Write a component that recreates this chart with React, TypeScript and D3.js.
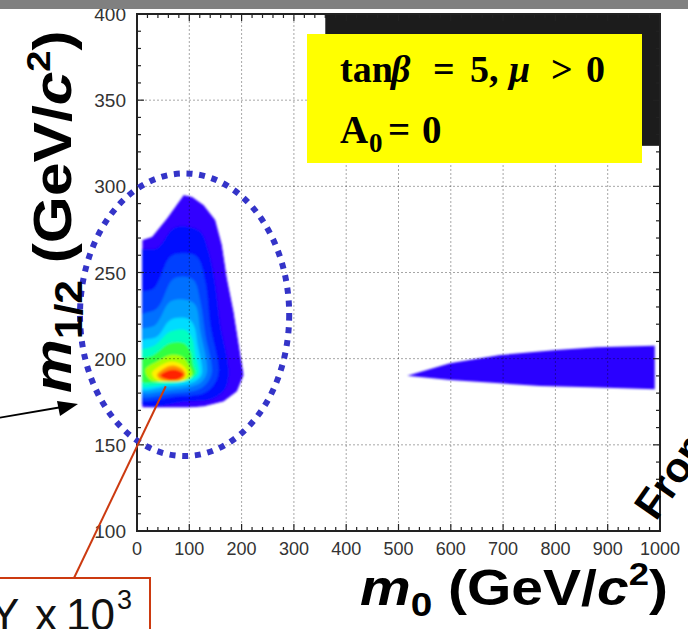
import React, { useEffect, useRef } from "react";
import * as d3 from "d3";

type Pt = [number, number];

// axis ticks
const xTicks = [0, 100, 200, 300, 400, 500, 600, 700, 800, 900, 1000];
const yTicks = [100, 150, 200, 250, 300, 350, 400];

// contour bands of the efficiency map, [m0, m1/2], outer -> inner
const band1: Pt[] = [[10, 268.9], [28.7, 270.8], [57.4, 281.5], [89.2, 295], [105.2, 294], [127.5, 289.2], [149.8, 280.5], [162.5, 266], [172.1, 246.6], [184.8, 227.3], [204, 190.5], [191.2, 180.9], [165.7, 175.1], [127.5, 172.2], [98.8, 171.6], [10, 171.6]];
const band2: Pt[] = [[0, 262.1], [38.2, 264], [70.1, 275.7], [95.6, 276.6], [121.1, 273.7], [137, 262.1], [149.8, 242.8], [159.3, 219.6], [175.3, 192.5], [168.9, 182.8], [146.6, 177], [95.6, 175.1], [0, 175.1]];
const band3: Pt[] = [[0, 237], [31.9, 240.8], [63.7, 259.2], [89.2, 261.1], [114.7, 259.2], [130.7, 244.7], [140.2, 219.6], [156.1, 192.5], [146.6, 184.7], [127.5, 179.9], [76.5, 178], [0, 177.4]];
const band4: Pt[] = [[0, 223.4], [38.2, 229.2], [66.9, 245.7], [82.9, 247.6], [108.3, 245.7], [121.1, 233.1], [130.7, 213.8], [143.4, 192.5], [133.8, 185.7], [114.7, 181.8], [70.1, 179.9], [0, 179.3]];
const band5: Pt[] = [[0, 215.7], [35.1, 219.6], [63.7, 233.1], [95.6, 234.1], [111.5, 231.2], [121.1, 215.7], [133.8, 192.5], [124.3, 186.7], [105.2, 183.8], [63.7, 181.8], [0, 181.3]];
const band6: Pt[] = [[0, 208.9], [38.2, 212.8], [63.7, 222.5], [95.6, 223.4], [108.3, 219.6], [116, 208], [124.3, 191.5], [114.7, 187.6], [95.6, 185.1], [57.4, 183.8], [0, 182.8]];
const band7: Pt[] = [[0, 203.1], [35.1, 208], [63.7, 215.7], [92.4, 216.7], [105.2, 211.8], [111.5, 202.2], [117.9, 191.5], [108.3, 188.6], [89.2, 186.7], [57.4, 185.1], [0, 184.7]];
const band8: Pt[] = [[0, 198.3], [31.9, 202.2], [63.7, 208.9], [89.2, 208.9], [102, 204.1], [107.1, 196.4], [111.5, 191.5], [102, 189], [82.9, 187.6], [54.2, 186.7], [3, 187.1]];
const band9: Pt[] = [[15.9, 193.5], [38.2, 198.3], [63.7, 202.2], [86, 201.2], [98.8, 196.4], [105.2, 190.5], [95.6, 187.6], [63.7, 186.7], [25.5, 187.6]];
const band10: Pt[] = [[28.7, 191.5], [47.8, 196.4], [66.9, 198.3], [86, 196.4], [96.9, 191.5], [89.2, 187.6], [63.7, 186.7], [38.2, 187.6]];
const band11: Pt[] = [[38.2, 190.5], [54.2, 194.8], [70.1, 196], [88, 193.5], [92.4, 190.2], [82.9, 187.6], [60.5, 187.1], [44.6, 188]];
const band12: Pt[] = [[44.6, 190.2], [57.4, 192.9], [73.3, 193.5], [89.2, 190.9], [79.7, 188.2], [60.5, 187.8]];
const bands = [band1, band2, band3, band4, band5, band6, band7, band8, band9, band10, band11, band12];
const bandColors = ["#3300ff", "#0010ff", "#0040ff", "#0070ff", "#00a0ff", "#00dcff", "#00ffc0", "#30ff40", "#a8ff00", "#fff000", "#ff9000", "#ff2000"];

// second allowed region at high m0
const rightBand: Pt[] = [[516.8, 190.1], [598.5, 197.3], [694, 202.1], [802.5, 205], [879, 206.6], [990, 207.5], [990, 182.2], [866, 183.4], [770.6, 184.1], [694, 185.7], [598.5, 187.6]];

// highlighted area and pointer target
const ellipseCenter: Pt = [91, 225.5];
const ellipseRadius: Pt = [200, 82];
const peakPoint: Pt = [55, 184];

export default function App() {
  const ref = useRef<SVGSVGElement>(null);

  useEffect(() => {
    const svg = d3.select(ref.current);
    svg.selectAll("*").remove();

    const width = 688,
      height = 629,
      margin = { top: 14, right: 28, bottom: 98, left: 137 };
    const font = "'Liberation Sans', Arial, sans-serif";
    const serif = "'Liberation Serif', 'Times New Roman', serif";

    const x = d3.scaleLinear().domain([0, 1000]).range([margin.left, width - margin.right]);
    const y = d3.scaleLinear().domain([100, 400]).range([height - margin.bottom, margin.top]);

    svg.append("rect").attr("width", width).attr("height", height).attr("fill", "#fff");

    const defs = svg.append("defs");
    const outerLine = d3.line<Pt>().x((d) => x(d[0])).y((d) => y(d[1])).curve(d3.curveLinearClosed);
    const smoothLine = d3.line<Pt>().x((d) => x(d[0])).y((d) => y(d[1])).curve(d3.curveCatmullRomClosed.alpha(0.5));
    defs.append("clipPath").attr("id", "blobClip").append("path").attr("d", outerLine(band1));
    defs.append("filter").attr("id", "soft").attr("x", "-10%").attr("y", "-10%").attr("width", "120%").attr("height", "120%")
      .append("feGaussianBlur").attr("stdDeviation", 0.9);

    // contour map
    const blob = svg.append("g").attr("filter", "url(#soft)").append("g").attr("clip-path", "url(#blobClip)");
    bands.forEach((b, i) => {
      blob.append("path")
        .attr("d", i === 0 ? outerLine(b) : smoothLine(b))
        .attr("fill", bandColors[i]);
    });

    svg.append("g").attr("filter", "url(#soft)").append("path")
      .attr("d", outerLine(rightBand))
      .attr("fill", "#2a00ff");

    // dotted grid
    const grid = svg.append("g").attr("stroke", "#000").attr("stroke-opacity", 0.35).attr("stroke-dasharray", "2,2");
    xTicks.slice(1, -1).forEach((t) => {
      grid.append("line").attr("x1", x(t)).attr("x2", x(t)).attr("y1", y(100)).attr("y2", y(400));
    });
    yTicks.slice(1, -1).forEach((t) => {
      grid.append("line").attr("x1", x(0)).attr("x2", x(1000)).attr("y1", y(t)).attr("y2", y(t));
    });

    // black patch behind the legend box
    svg.append("rect")
      .attr("x", x(360)).attr("y", y(400))
      .attr("width", x(1000) - x(360)).attr("height", y(323.5) - y(400))
      .attr("fill", "#1c1c1c");

    // ticks and frame
    const ticks = svg.append("g").attr("stroke", "#222").attr("stroke-width", 1.2);
    d3.range(100, 401, 10).forEach((t) => {
      const len = t % 50 === 0 ? 7 : 4;
      ticks.append("line").attr("x1", x(0)).attr("x2", x(0) + len).attr("y1", y(t)).attr("y2", y(t));
      ticks.append("line").attr("x1", x(1000)).attr("x2", x(1000) - len).attr("y1", y(t)).attr("y2", y(t));
    });
    d3.range(0, 1001, 20).forEach((t) => {
      const len = t % 100 === 0 ? 7 : 4;
      ticks.append("line").attr("x1", x(t)).attr("x2", x(t)).attr("y1", y(100)).attr("y2", y(100) - len);
      ticks.append("line").attr("x1", x(t)).attr("x2", x(t)).attr("y1", y(400)).attr("y2", y(400) + len);
    });
    svg.append("rect")
      .attr("x", x(0)).attr("y", y(400))
      .attr("width", x(1000) - x(0)).attr("height", y(100) - y(400))
      .attr("fill", "none").attr("stroke", "#222").attr("stroke-width", 2);

    svg.append("g").selectAll("text").data(xTicks).enter().append("text")
      .attr("x", (d) => x(d)).attr("y", y(100) + 24)
      .attr("text-anchor", "middle").attr("font-family", font).attr("font-size", 18).attr("fill", "#333")
      .text((d) => d);
    svg.append("g").selectAll("text").data(yTicks).enter().append("text")
      .attr("x", x(0) - 11).attr("y", (d) => y(d) + 7)
      .attr("text-anchor", "end").attr("font-family", font).attr("font-size", 19).attr("fill", "#333")
      .text((d) => d);

    // legend box
    svg.append("rect").attr("x", 307).attr("y", 34).attr("width", 335).attr("height", 129).attr("fill", "#ffff00");
    const leg = svg.append("text").attr("font-family", serif).attr("font-weight", "bold").attr("font-size", 38).attr("fill", "#000");
    leg.append("tspan").attr("x", 340).attr("y", 82).text("tan");
    leg.append("tspan").attr("x", 391).attr("font-style", "italic").text("β");
    leg.append("tspan").attr("x", 433).text("=");
    leg.append("tspan").attr("x", 470).text("5,");
    leg.append("tspan").attr("x", 509).attr("font-style", "italic").text("μ");
    leg.append("tspan").attr("x", 551).text(">");
    leg.append("tspan").attr("x", 586).text("0");
    const leg2 = svg.append("text").attr("font-family", serif).attr("font-weight", "bold").attr("font-size", 39).attr("fill", "#000");
    leg2.append("tspan").attr("x", 340).attr("y", 143).text("A");
    leg2.append("tspan").attr("x", 369).attr("y", 152).attr("font-size", 27).text("0");
    leg2.append("tspan").attr("x", 388).attr("y", 143).text("=");
    leg2.append("tspan").attr("x", 422).attr("y", 143).text("0");

    // dotted ellipse around the low-mass region
    svg.append("ellipse")
      .attr("cx", x(ellipseCenter[0])).attr("cy", y(ellipseCenter[1]))
      .attr("rx", x(ellipseCenter[0] + ellipseRadius[0]) - x(ellipseCenter[0]))
      .attr("ry", y(ellipseCenter[1] - ellipseRadius[1]) - y(ellipseCenter[1]))
      .attr("fill", "none").attr("stroke", "#3434c8").attr("stroke-width", 6).attr("stroke-dasharray", "6,6.7");

    // black arrow from the left
    svg.append("line").attr("x1", -2).attr("y1", 418).attr("x2", 62).attr("y2", 407).attr("stroke", "#000").attr("stroke-width", 1.8);
    svg.append("polygon").attr("points", "78,404 57,401 60,416").attr("fill", "#000");

    // pointer to the peak and its caption box
    svg.append("line").attr("x1", 74).attr("y1", 578).attr("x2", x(peakPoint[0])).attr("y2", y(peakPoint[1]))
      .attr("stroke", "#cc3a10").attr("stroke-width", 2);
    svg.append("rect").attr("x", -3).attr("y", 578).attr("width", 153).attr("height", 60)
      .attr("fill", "#fff").attr("stroke", "#cc3a10").attr("stroke-width", 2);
    const cap = svg.append("text").attr("font-family", font).attr("font-size", 44).attr("fill", "#111");
    cap.append("tspan").attr("x", -10).attr("y", 630).text("Y");
    cap.append("tspan").attr("x", 35).attr("y", 630).text("x");
    cap.append("tspan").attr("x", 66).attr("y", 630).text("10");
    cap.append("tspan").attr("x", 117).attr("y", 609).attr("font-size", 27).text("3");

    // axis titles (stretched horizontally like the source image)
    const xt = svg.append("text").attr("transform", "translate(360,605) scale(1.14,1)")
      .attr("font-family", font).attr("font-weight", "bold").attr("font-size", 50).attr("fill", "#000");
    xt.append("tspan").attr("font-style", "italic").text("m");
    xt.append("tspan").attr("font-size", 34).attr("dy", 11).text("0");
    xt.append("tspan").attr("dy", -11).text(" (GeV/");
    xt.append("tspan").attr("font-style", "italic").text("c");
    xt.append("tspan").attr("font-size", 32).attr("dy", -20).text("2");
    xt.append("tspan").attr("dy", 20).text(")");

    const yt = svg.append("text").attr("transform", "translate(71,393) rotate(-90) scale(1.12,1)")
      .attr("font-family", font).attr("font-weight", "bold").attr("font-size", 54).attr("fill", "#000");
    yt.append("tspan").attr("font-style", "italic").text("m");
    yt.append("tspan").attr("font-size", 38).attr("dy", 11).text("1/2");
    yt.append("tspan").attr("dy", -11).text(" (GeV/");
    yt.append("tspan").attr("font-style", "italic").text("c");
    yt.append("tspan").attr("font-size", 34).attr("dy", -21).text("2");
    yt.append("tspan").attr("dy", 21).text(")");

    svg.append("text").attr("transform", "translate(656,522) rotate(-55)")
      .attr("font-family", font).attr("font-weight", "bold").attr("font-size", 42).attr("fill", "#000")
      .text("From");

    // grey strip at the top
    svg.append("rect").attr("width", width).attr("height", 9).attr("fill", "#808080");
  }, []);

  return (
    <svg
      ref={ref}
      width={688}
      height={629}
      style={{ position: "absolute", left: 0, top: 0, display: "block" }}
    ></svg>
  );
}
